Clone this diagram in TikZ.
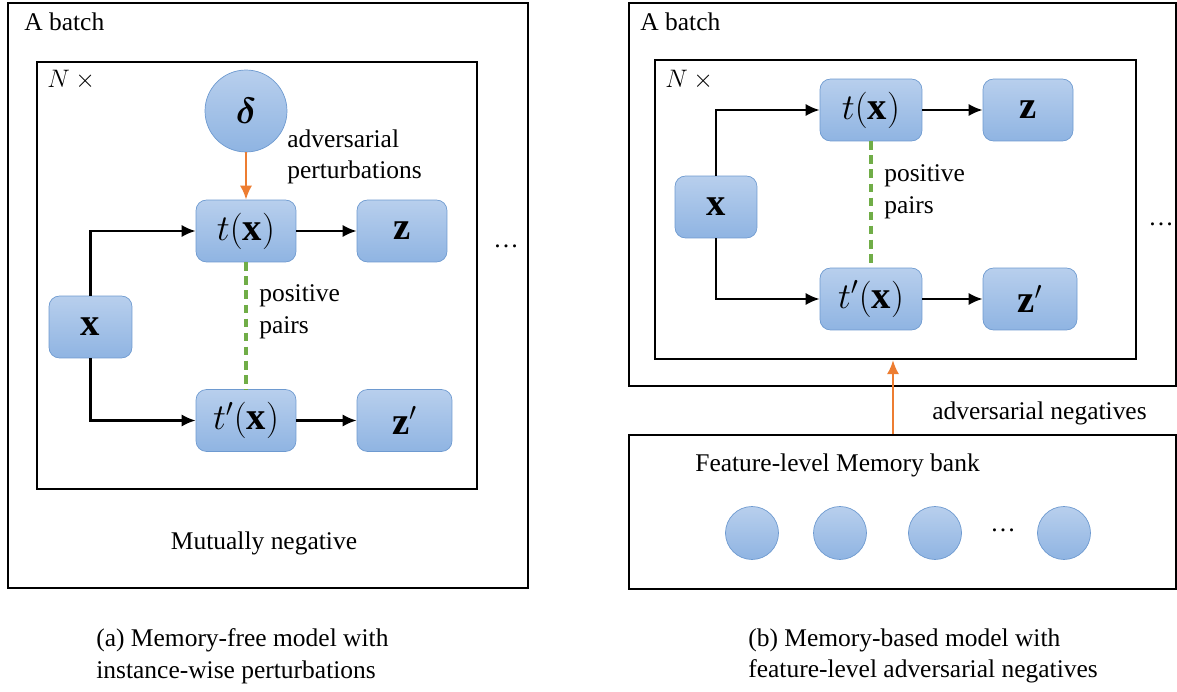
\documentclass[tikz,border=0pt]{standalone}
\usepackage{fontspec}
\setmainfont{Liberation Serif}
\usepackage{amsmath, bm}
\usepackage{xcolor}
\usetikzlibrary{arrows.meta, positioning}

\definecolor{blktop}{RGB}{184,207,237}
\definecolor{blkbot}{RGB}{143,180,226}
\definecolor{blkline}{RGB}{110,154,208}
\definecolor{advorange}{RGB}{237,125,49}
\definecolor{pairgreen}{RGB}{112,173,71}

\begin{document}
\begin{tikzpicture}[x=0.02cm, y=-0.02cm,
		font=\fontsize{14.5}{18}\selectfont,
		blk/.style={rounded corners=6pt, draw=blkline, top color=blktop, bottom color=blkbot,
			minimum height=1.24cm, inner sep=0pt, font=\fontsize{22}{26}\selectfont},
		ball/.style={circle, draw=blkline, top color=blktop, bottom color=blkbot, inner sep=0pt},
		frame/.style={draw, line width=1.3pt, inner sep=0pt},
		txt/.style={inner sep=0pt, align=left},
		flow/.style={line width=1.3pt, -{Latex[length=8pt, width=7pt]}},
		adv/.style={draw=advorange, line width=1.4pt, -{Latex[length=8pt, width=7pt]}},
		pair/.style={draw=pairgreen, line width=1.8pt, dash pattern=on 5pt off 3pt}]
	\useasboundingbox (0,0) rectangle (1177,692);
	
	% (a) memory-free
	\node[frame, minimum width=10.4cm, minimum height=11.7cm] (OUTA) at (268,295.5) {};
	\node[frame, minimum width=8.8cm, minimum height=8.54cm] (INA) at (257,275.5) {};
	\node[txt, anchor=west] (BATCHA) at (24,22) {A batch};
	\node[txt, anchor=west] (NA) at (47,80) {$N \times{}$};
	
	\node[ball, minimum size=1.64cm, font=\fontsize{22}{26}\selectfont] (DELTA) at (246,111) {$\bm{\delta}$};
	\node[txt, anchor=west] (PERT) at (287,157) {adversarial\\perturbations};
	
	\node[blk, minimum width=1.66cm] (XA) at (90.5,327) {$\mathbf{x}$};
	\node[blk, minimum width=2cm] (TA) at (246,231) {$t(\mathbf{x})$};
	\node[blk, minimum width=1.8cm] (ZA) at (402,231) {$\mathbf{z}$};
	\node[blk, minimum width=2cm] (TPA) at (246,420.5) {$t'(\mathbf{x})$};
	\node[blk, minimum width=1.9cm] (ZPA) at (404.5,420.5) {$\mathbf{z}'$};
	\node[txt, anchor=west] (POSA) at (259,312) {positive\\pairs};
	
	\draw[flow] (XA.north) |- (TA.west);
	\draw[flow] (XA.south) |- (TPA.west);
	\draw[flow] (TA) -- (ZA);
	\draw[flow] (TPA) -- (ZPA);
	\draw[adv] (DELTA.south) -- (TA.north);
	\draw[pair] (TA.south) -- (TPA.north);
	
	\node[txt] (MUTA) at (264,543) {Mutually negative};
	\node[txt] (DOTSA) at (506,246) {\dots};
	\node[txt, anchor=west] (CAPA) at (96,656) {(a) Memory-free model with\\instance-wise perturbations};
	
	% (b) memory-based
	\node[frame, minimum width=10.94cm, minimum height=7.66cm] (OUTB) at (902.5,194.5) {};
	\node[frame, minimum width=9.62cm, minimum height=5.98cm] (INB) at (895.5,209.5) {};
	\node[txt, anchor=west] (BATCHB) at (640,22) {A batch};
	\node[txt, anchor=west] (NB) at (665,80) {$N \times{}$};
	
	\node[blk, minimum width=1.64cm] (XB) at (716,207) {$\mathbf{x}$};
	\node[blk, minimum width=2.04cm] (TB) at (871,110) {$t(\mathbf{x})$};
	\node[blk, minimum width=1.8cm] (ZB) at (1028,110) {$\mathbf{z}$};
	\node[blk, minimum width=2.04cm] (TPB) at (871,299) {$t'(\mathbf{x})$};
	\node[blk, minimum width=1.88cm] (ZPB) at (1030,299) {$\mathbf{z}'$};
	\node[txt, anchor=west] (POSB) at (884,192) {positive\\pairs};
	
	\draw[flow] (XB.north) |- (TB.west);
	\draw[flow] (XB.south) |- (TPB.west);
	\draw[flow] (TB) -- (ZB);
	\draw[flow] (TPB) -- (ZPB);
	\draw[pair] (TB.south) -- (TPB.north);
	
	\node[txt] (DOTSB) at (1161,224) {\dots};
	
	\node[frame, minimum width=10.94cm, minimum height=3.08cm] (BANK) at (902.5,512) {};
	\node[txt, anchor=west] (BANKL) at (695,465) {Feature-level Memory bank};
	\foreach \i/\cx in {1/752, 2/840, 3/935, 4/1064}
		\node[ball, minimum size=1.06cm] (M\i) at (\cx,533) {};
	\node[txt] (DOTSM) at (1003,530) {\dots};
	
	\coordinate (ADVX) at (893,0);
	\draw[adv] (ADVX |- BANK.north) -- (ADVX |- INB.south);
	\node[txt, anchor=west] (NEG) at (932,413) {adversarial negatives};
	\node[txt, anchor=west] (CAPB) at (748,656) {(b) Memory-based model with\\feature-level adversarial negatives};
\end{tikzpicture}
\end{document}
